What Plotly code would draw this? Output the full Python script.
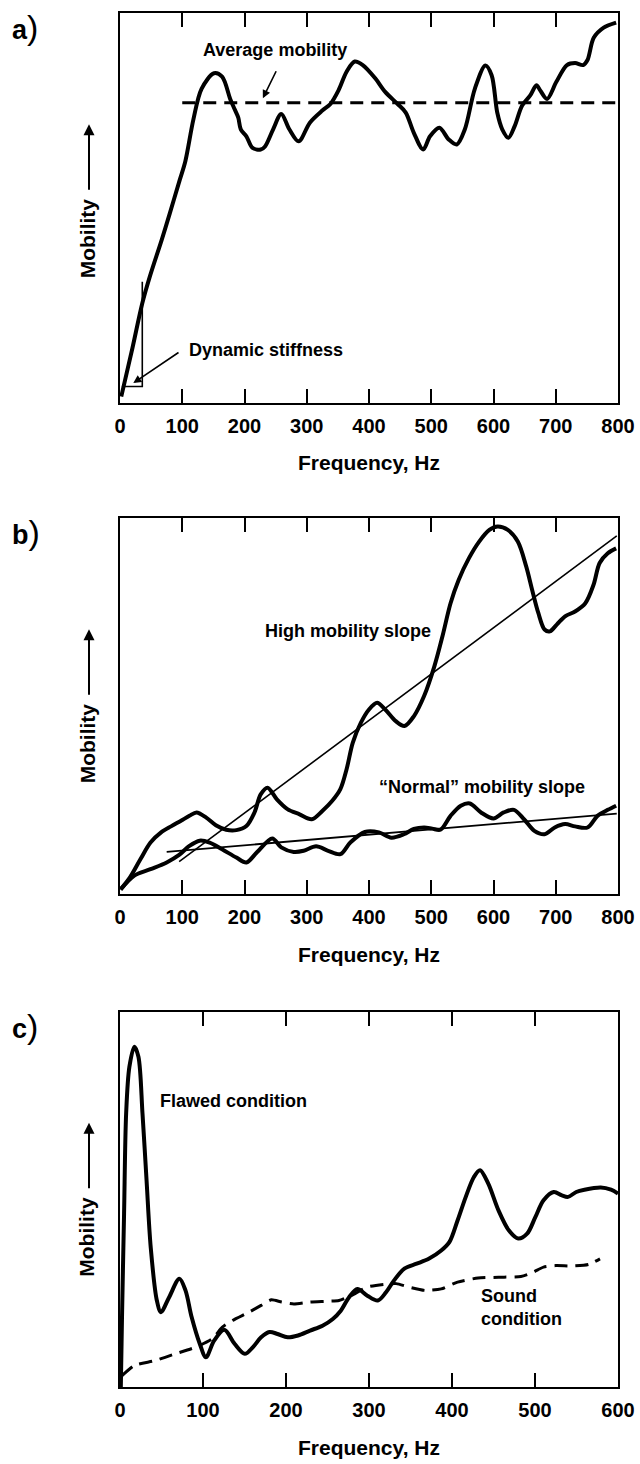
import plotly.graph_objects as go

W, H = 640, 1464
FONT = "Liberation Sans, Arial, Helvetica, sans-serif"

# ---------------- data ----------------
# Panel a: mobility curve
a_freq = [2, 20, 35.8, 48, 67, 80, 96, 105, 118, 131, 151, 164, 177, 184, 190, 194, 203, 213, 226, 233,
          246, 259, 272, 287, 305, 325, 338, 351, 364, 377, 390, 410, 426, 446, 459, 472, 487, 498, 513,
          528, 541, 554, 570, 587, 597, 606, 614, 624, 634, 646, 659, 669, 675, 686, 701, 718, 731, 744,
          751, 761, 777, 797]
a_mob = [1.5, 14, 25.5, 32.4, 41.8, 48.6, 57.2, 62, 72.8, 80.6, 84.6, 83.7, 78, 75.4, 73.2, 70.2, 68.4,
         65.4, 65, 65.8, 70.2, 74.1, 70.2, 67.1, 71.9, 75, 76.7, 80.2, 85, 87.6, 86.7, 83.3, 79.8, 76.7,
         74.5, 69.3, 65, 68.4, 70.6, 67.6, 66.3, 70.2, 80.6, 86.6, 84.1, 74.5, 70.2, 68, 71, 76.3, 78.9,
         81.5, 80.2, 78, 82.4, 86.7, 87.2, 86.7, 88, 93.7, 96.3, 97.6]
a_avg_freq = [100, 800]
a_avg_mob = [77, 77]
a_stiff_freq = [3, 35.8, 35.8]
a_stiff_mob = [4.1, 4.1, 31]

# Panel b: high and normal mobility curves and slopes
b_high_freq = [1, 16, 33, 49, 66, 82, 98, 111.5, 123, 138, 154, 170.5, 187, 203, 216, 226, 237, 252, 269,
               288.5, 308, 325, 341, 354, 364, 374, 387, 400, 413, 426, 443, 457, 472, 488.5, 505, 518,
               531, 544, 560.6, 577, 593.4, 606.6, 623, 639, 652.5, 662, 672, 682, 690.5, 701.6, 715,
               731, 747.5, 760.7, 770.5, 783.6, 797]
b_high_mob = [1.2, 4.4, 9.3, 13.7, 16.4, 18, 19.5, 20.8, 21.7, 20.4, 18.3, 17.1, 17, 18.1, 21.7, 26.5, 28.3,
              25.2, 22.6, 21.2, 19.9, 22.1, 24.8, 27.9, 33.2, 40.3, 45.6, 49.1, 50.9, 49.1, 46, 44.7,
              47.3, 52.7, 60.6, 68.6, 77.4, 83.6, 89.4, 93.8, 96.9, 97.8, 96.9, 93.8, 87.2, 81, 74.8,
              70.4, 69.9, 71.7, 73.9, 75.2, 77.4, 82.3, 88.1, 90.7, 92]
b_norm_freq = [1, 23, 49, 75, 95, 111.5, 128, 144, 164, 187, 203, 220, 244.6, 259, 279, 295, 315, 334.4,
               354, 370, 393.4, 416, 436, 456, 472, 488.5, 501.6, 514.8, 531, 547.5, 562, 580, 600,
               616.4, 632.8, 649, 665.6, 682, 698.4, 715, 731, 751, 767, 783.6, 797]
b_norm_mob = [1.2, 4.9, 6.6, 8.4, 10.4, 12.8, 14.2, 13.7, 11.9, 9.7, 8.4, 11.1, 14.8, 12.4, 11.2, 11.5,
              12.7, 11.5, 10.6, 13.7, 16.5, 16.4, 15, 15.9, 17.3, 17.7, 17.4, 17.1, 20.8, 23.5, 24.1,
              21.7, 20.1, 21.7, 22.4, 19.9, 16.8, 15.9, 17.7, 18.6, 18, 17.7, 20.8, 22.4, 23.5]
b_high_slope_freq = [95, 798]
b_high_slope_mob = [8.6, 95.3]
b_norm_slope_freq = [75, 798]
b_norm_slope_mob = [11.2, 21.4]

# Panel c: flawed and sound conditions
c_flaw_freq = [1, 2.5, 4.9, 7.4, 11.3, 17.3, 22.2, 27.1, 32, 37, 44.4, 49.3, 59.2, 71.5, 78.9, 86.3, 96.1,
               103.5, 113.4, 125.7, 138, 150.4, 160.2, 170, 180, 189.8, 202, 214.5, 229, 244, 256.4,
               266, 276, 286, 298, 310.6, 320.5, 330, 342.6, 357.4, 372, 387, 397, 406.7, 416.6, 426.4,
               433.8, 443.7, 456, 468.4, 479.7, 490.5, 500.4, 510.3, 522.6, 532.4, 539.8, 549.7, 559.6,
               579.3, 591.6, 600]
c_flaw_mob = [0, 19.6, 46.2, 72.9, 85.3, 90.7, 88, 72.9, 55.1, 37.3, 23.1, 20, 24, 28.9, 25.8, 18.7, 11.6,
              8, 12.4, 15.3, 11.6, 8.9, 10.7, 13.3, 14.7, 14.2, 13.3, 13.8, 15.1, 16.4, 18.2, 20.4, 24,
              26.2, 24.4, 23.1, 25.3, 28.4, 31.6, 32.9, 34.2, 36.4, 38.7, 44.4, 50.7, 56, 57.8, 54.2,
              47.1, 41.8, 39.6, 40.9, 45.3, 49.8, 52, 51.1, 50.7, 52, 52.6, 53.2, 52.6, 51.6]
c_sound_freq = [2.5, 17.3, 42, 66.6, 91.2, 111, 123.3, 135.6, 155.3, 170, 182.4, 194.7, 209.5, 229, 249,
                263.8, 278.5, 298, 318, 332.8, 347.6, 367.3, 387, 406.7, 431.4, 456, 483, 495.5, 510.3,
                525, 544.7, 564.5, 578.3]
c_sound_mob = [3.1, 5.8, 7.1, 8.9, 10.7, 12.9, 16, 17.8, 20, 21.8, 23.3, 22.7, 22.2, 22.7, 22.9, 23.1,
               24.4, 26.7, 27.4, 27.6, 26.7, 25.8, 26.2, 28, 29.1, 29.3, 29.5, 30.4, 32, 32.4, 32.3,
               32.7, 34.2]

ticks_800 = [0, 100, 200, 300, 400, 500, 600, 700, 800]
ticks_600 = [0, 100, 200, 300, 400, 500, 600]

# ---------------- layout geometry (pixels) ----------------
X0, X1 = 120, 618
panels = {"a": (13.3, 402.5), "b": (518.3, 894.0), "c": (1011.7, 1387.3)}


def px(x):
    return x / W


def py(y):
    return 1 - y / H


fig = go.Figure()

thick = dict(color="black", width=4)


def add(x, y, ax, line, shape="spline", smoothing=0.9):
    ln = dict(shape=shape, **line)
    if shape == "spline":
        ln["smoothing"] = smoothing
    fig.add_trace(go.Scatter(x=x, y=y, mode="lines", xaxis=ax[0], yaxis=ax[1], line=ln,
                             showlegend=False, hoverinfo="skip"))


# panel a
add(a_freq, a_mob, ("x", "y"), thick)
add(a_avg_freq, a_avg_mob, ("x", "y"), dict(color="black", width=3, dash="13px,8px"), "linear")
add(a_stiff_freq, a_stiff_mob, ("x", "y"), dict(color="black", width=1.6), "linear")
# panel b
add(b_high_freq, b_high_mob, ("x2", "y2"), thick)
add(b_norm_freq, b_norm_mob, ("x2", "y2"), thick)
add(b_high_slope_freq, b_high_slope_mob, ("x2", "y2"), dict(color="black", width=1.6), "linear")
add(b_norm_slope_freq, b_norm_slope_mob, ("x2", "y2"), dict(color="black", width=1.8), "linear")
# panel c
add(c_flaw_freq, c_flaw_mob, ("x3", "y3"), thick)
add(c_sound_freq, c_sound_mob, ("x3", "y3"), dict(color="black", width=3, dash="13px,8px"),
    smoothing=0.6)

tickfont = dict(family=FONT, size=20, color="black", weight="bold")


def xaxis_cfg(anchor, rng, ticks):
    return dict(domain=[px(X0), px(X1)], anchor=anchor, range=rng, tickvals=ticks,
                ticktext=[str(t) for t in ticks], ticks="inside", ticklen=14, tickwidth=2,
                tickcolor="black", showline=True, linewidth=2, linecolor="black", mirror="ticks",
                showgrid=False, zeroline=False, tickfont=tickfont, ticklabelstandoff=4,
                fixedrange=True)


def yaxis_cfg(anchor, top, bottom):
    return dict(domain=[py(bottom), py(top)], anchor=anchor, range=[0, 100], showticklabels=False,
                ticks="", showline=True, linewidth=2, linecolor="black", mirror=True,
                showgrid=False, zeroline=False, fixedrange=True)


fig.update_layout(
    width=W, height=H, margin=dict(l=0, r=0, t=0, b=0, autoexpand=False),
    paper_bgcolor="white", plot_bgcolor="white", showlegend=False,
    xaxis=xaxis_cfg("y", [0, 800], ticks_800),
    yaxis=yaxis_cfg("x", *panels["a"]),
    xaxis2=xaxis_cfg("y2", [0, 800], ticks_800),
    yaxis2=yaxis_cfg("x2", *panels["b"]),
    xaxis3=xaxis_cfg("y3", [0, 600], ticks_600),
    yaxis3=yaxis_cfg("x3", *panels["c"]),
)

ann = []
lbl_font = dict(family=FONT, size=21, color="black", weight="bold")
txt_font = dict(family=FONT, size=18, color="black", weight="bold")

for key, (top, bottom) in panels.items():
    # panel letter
    ann.append(dict(xref="paper", yref="paper", x=px(10), y=py(top + 14), xanchor="left",
                    yanchor="middle", showarrow=False,
                    text=f"<b>{key}</b><span style='font-size:34px'>)</span>",
                    font=dict(family=FONT, size=27, color="black")))
    # x title
    ann.append(dict(xref="paper", yref="paper", x=px((X0 + X1) / 2), y=py(bottom + 60),
                    xanchor="center", yanchor="middle", showarrow=False, text="Frequency, Hz",
                    font=lbl_font))
    # y title
    ann.append(dict(xref="paper", yref="paper", x=px(87), y=py(top + 225), xanchor="center",
                    yanchor="middle", showarrow=False, text="Mobility", textangle=-90, font=lbl_font))
    ann.append(dict(xref="paper", yref="paper", x=px(89), y=py(top + 111), ax=0, ay=67,
                    showarrow=True, arrowhead=2, arrowsize=1.1, arrowwidth=2, arrowcolor="black",
                    text=""))

# panel a annotations
ann.append(dict(xref="x", yref="y", x=249, y=90.5, showarrow=False, text="Average mobility",
                font=txt_font, xanchor="center", yanchor="middle"))
ann.append(dict(xref="x", yref="y", axref="x", ayref="y", x=229.5, y=78.2, ax=252, ay=85.5,
                showarrow=True, arrowhead=2, arrowsize=1, arrowwidth=1.6, arrowcolor="black", text=""))
ann.append(dict(xref="x", yref="y", x=108, y=13.5, showarrow=False, text="Dynamic stiffness",
                font=txt_font, xanchor="left", yanchor="middle"))
ann.append(dict(xref="x", yref="y", axref="x", ayref="y", x=21.4, y=5.0, ax=96.4, ay=13.1,
                showarrow=True, arrowhead=2, arrowsize=1, arrowwidth=1.6, arrowcolor="black", text=""))
# panel b annotations
ann.append(dict(xref="x2", yref="y2", x=367, y=70, showarrow=False, text="High mobility slope",
                font=txt_font, xanchor="center", yanchor="middle"))
ann.append(dict(xref="x2", yref="y2", x=582, y=28.5, showarrow=False,
                text="\u201cNormal\u201d mobility slope", font=txt_font, xanchor="center",
                yanchor="middle"))
# panel c annotations
ann.append(dict(xref="x3", yref="y3", x=46, y=76.2, showarrow=False, text="Flawed condition",
                font=txt_font, xanchor="left", yanchor="middle"))
ann.append(dict(xref="x3", yref="y3", x=432, y=21.2, showarrow=False, text="Sound<br>condition",
                font=txt_font, xanchor="left", yanchor="middle", align="left"))

fig.update_layout(annotations=ann)
fig.write_html("out.html")
